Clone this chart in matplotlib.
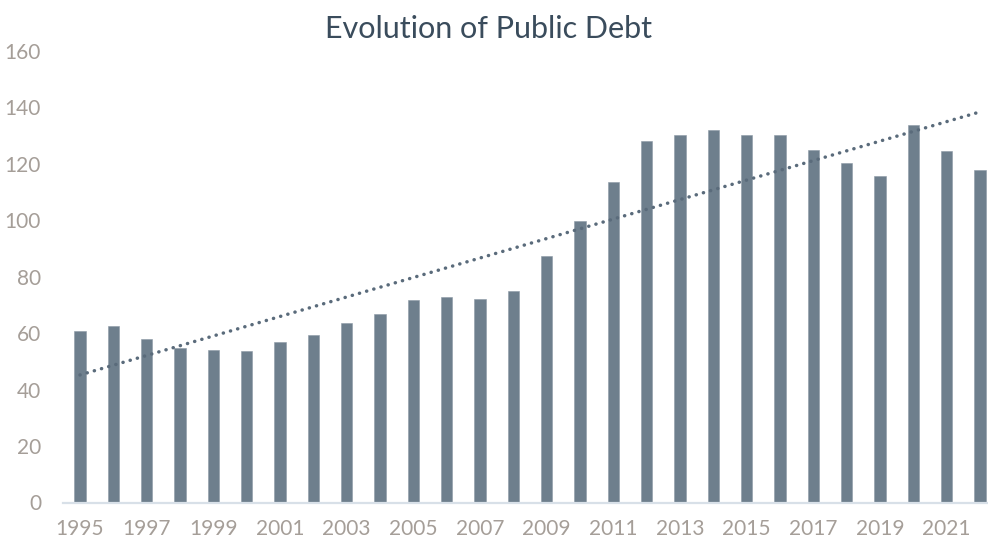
import matplotlib
matplotlib.use('Agg')
import matplotlib.pyplot as plt
import numpy as np

# Public debt (% of GDP)
years = list(range(1995, 2023))
debt = [60.8, 62.6, 58.1, 54.7, 54.1, 53.8, 57.0, 59.5, 63.5, 66.7,
        71.6, 72.9, 72.0, 75.1, 87.2, 99.6, 113.4, 128.1, 130.3, 132.1,
        130.3, 130.3, 124.9, 120.4, 115.6, 133.9, 124.5, 117.8]
y_ticks = [0, 20, 40, 60, 80, 100, 120, 140, 160]

bar_color = '#6E7F8D'
trend_color = '#5A6B7B'
label_color = '#A59E98'
title_color = '#3A4C5C'

plt.rcParams['font.family'] = ['Lato', 'DejaVu Sans']

fig = plt.figure(figsize=(9.88, 5.41), dpi=100)
ax = fig.add_axes([63.3 / 988, 38.5 / 541, 933.4 / 988, 451.5 / 541])

x = np.arange(len(years))
ax.bar(x, debt, width=0.34, color=bar_color, edgecolor='#8C9AA6', linewidth=0.4, zorder=2)

# linear trend line, fitted over the bars
coef = np.polyfit(x, debt, 1)
ax.plot(x, np.polyval(coef, x), linestyle=(0, (0.05, 2.1)), dash_capstyle='round',
        color=trend_color, linewidth=2.5, zorder=3)

ax.set_xlim(-0.5, len(years) - 0.5)
ax.set_ylim(0, 160)
ax.set_yticks(y_ticks)
ax.set_xticks(x[::2])
ax.set_xticklabels([str(y) for y in years[::2]])

for side in ['top', 'right', 'left']:
    ax.spines[side].set_visible(False)
ax.spines['bottom'].set_color('#D8E0E8')
ax.spines['bottom'].set_linewidth(1.6)
ax.tick_params(axis='both', length=0, labelsize=15, labelcolor=label_color)
ax.tick_params(axis='y', pad=16)
ax.tick_params(axis='x', pad=12)

fig.text(0.494, 0.946, 'Evolution of Public Debt', ha='center', va='center',
         fontsize=22, color=title_color)

plt.savefig('out.png', dpi=100, facecolor='white')
